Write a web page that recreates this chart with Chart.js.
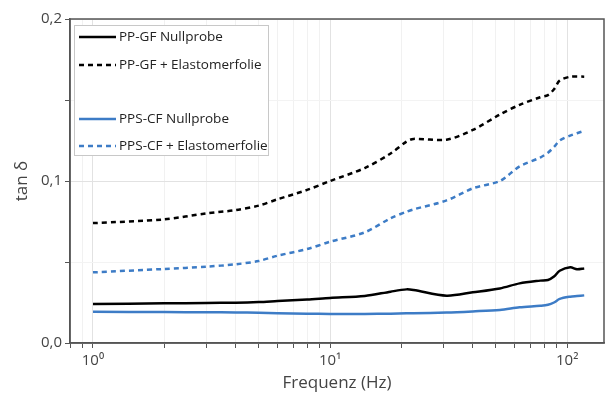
<!DOCTYPE html>
<html>
<head>
<meta charset="utf-8">
<script src="https://cdn.jsdelivr.net/npm/chart.js@4"></script>
<style>
  html, body { margin: 0; padding: 0; background: #fff; }
  #wrap { width: 606px; height: 394px; position: relative; }
</style>
</head>
<body>
<div id="wrap"><canvas id="chart"></canvas></div>
<script>
// Frequenz (Hz) – Messpunkte
const frequencies = [1, 2, 3, 4, 5, 6, 8, 10, 14, 18, 21, 22.5, 31, 40, 52, 63, 77, 83, 88, 93, 103, 110, 118];

// tan δ Werte
const ppgfNull = [0.0241, 0.0245, 0.0247, 0.0249, 0.0253, 0.0259, 0.0268, 0.0278, 0.0290, 0.0317, 0.0331, 0.0327, 0.0292, 0.0313, 0.0337, 0.0368, 0.0385, 0.0389, 0.0410, 0.0446, 0.0467, 0.0455, 0.0460];
const ppgfElasto = [0.0740, 0.0763, 0.0800, 0.0820, 0.0848, 0.0887, 0.0945, 0.1000, 0.1080, 0.1170, 0.1243, 0.1260, 0.1255, 0.1315, 0.1410, 0.1470, 0.1517, 0.1530, 0.1566, 0.1620, 0.1644, 0.1645, 0.1644];
const ppscfNull = [0.0193, 0.0191, 0.0190, 0.0189, 0.0187, 0.0184, 0.0181, 0.0179, 0.0179, 0.0181, 0.0183, 0.0184, 0.0188, 0.0195, 0.0204, 0.0220, 0.0230, 0.0236, 0.0250, 0.0272, 0.0286, 0.0290, 0.0294];
const ppscfElasto = [0.0436, 0.0457, 0.0471, 0.0486, 0.0506, 0.0539, 0.0580, 0.0625, 0.0683, 0.0770, 0.0810, 0.0825, 0.0880, 0.0955, 0.1000, 0.1090, 0.1145, 0.1175, 0.1210, 0.1250, 0.1280, 0.1295, 0.1310];

const seriesLabels = ['PP-GF Nullprobe', 'PP-GF + Elastomerfolie', 'PPS-CF Nullprobe', 'PPS-CF + Elastomerfolie'];
const xMajorTicks = [1, 10, 100];
const yTicks = [0, 0.05, 0.1, 0.15, 0.2];

const BLUE = '#3d7cc6';
const FONT = "'Open Sans', 'Noto Sans', sans-serif";

function toPoints(values) {
    return values.map((v, i) => ({ x: frequencies[i], y: v }));
}

// Log-Ticks inkl. Zwischenwerte (0.8 ... 100)
function buildLogTicks(min, max) {
    const out = [];
    xMajorTicks.forEach(base => {
        for (let m = 1; m < 10; m++) {
            const v = base * m / 10;
            if (v >= min - 1e-9 && v <= max) out.push(v);
        }
    });
    out.push(100);
    return [...new Set(out.map(v => +v.toFixed(6)))].sort((a, b) => a - b);
}

const supers = { '0': '\u2070', '1': '\u00B9', '2': '\u00B2' };

// Rahmen um die Plotfläche + Legendenbox
const framePlugin = {
    id: 'frame',
    afterDraw(chart) {
        const { ctx, chartArea: a } = chart;
        ctx.save();
        ctx.strokeStyle = '#555';
        ctx.lineWidth = 1.5;
        ctx.strokeRect(a.left, a.top, a.right - a.left, a.bottom - a.top);

        // Legende
        const bx = a.left + 4, by = a.top + 6, bw = 194, bh = 130;
        ctx.fillStyle = '#fff';
        ctx.fillRect(bx, by, bw, bh);
        ctx.strokeStyle = '#c8c8c8';
        ctx.lineWidth = 1;
        ctx.strokeRect(bx + 0.5, by + 0.5, bw, bh);

        const rows = [
            { y: 37, color: '#000', dash: [] },
            { y: 65, color: '#000', dash: [5, 4] },
            { y: 119, color: BLUE, dash: [] },
            { y: 146, color: BLUE, dash: [5, 4] }
        ];
        ctx.font = '13.5px ' + FONT;
        ctx.textBaseline = 'middle';
        rows.forEach((r, i) => {
            ctx.beginPath();
            ctx.setLineDash(r.dash);
            ctx.strokeStyle = r.color;
            ctx.lineWidth = 2.5;
            ctx.moveTo(79, r.y);
            ctx.lineTo(116, r.y);
            ctx.stroke();
            ctx.setLineDash([]);
            ctx.fillStyle = '#222';
            ctx.fillText(seriesLabels[i], 119, r.y);
        });
        ctx.restore();
    }
};

const ctx = document.getElementById('chart').getContext('2d');
new Chart(ctx, {
    type: 'line',
    data: {
        datasets: [
            {
                label: seriesLabels[0],
                data: toPoints(ppgfNull),
                borderColor: '#000',
                borderWidth: 2.5,
                pointRadius: 0,
                tension: 0.3
            },
            {
                label: seriesLabels[1],
                data: toPoints(ppgfElasto),
                borderColor: '#000',
                borderWidth: 2.5,
                borderDash: [5, 4],
                pointRadius: 0,
                tension: 0.3
            },
            {
                label: seriesLabels[2],
                data: toPoints(ppscfNull),
                borderColor: BLUE,
                borderWidth: 2.5,
                pointRadius: 0,
                tension: 0.3
            },
            {
                label: seriesLabels[3],
                data: toPoints(ppscfElasto),
                borderColor: BLUE,
                borderWidth: 2.5,
                borderDash: [5, 4],
                pointRadius: 0,
                tension: 0.3
            }
        ]
    },
    options: {
        responsive: true,
        maintainAspectRatio: false,
        animation: false,
        layout: { padding: { left: 0, top: 19, right: 2, bottom: 0 } },
        plugins: {
            legend: { display: false },
            tooltip: { enabled: false }
        },
        scales: {
            x: {
                type: 'logarithmic',
                min: 0.8,
                max: 143,
                afterBuildTicks: scale => {
                    scale.ticks = buildLogTicks(0.8, 143).map(v => ({ value: v }));
                },
                afterFit: scale => { scale.height = 51; },
                border: { display: true, color: '#555', width: 1.5 },
                grid: {
                    color: c => xMajorTicks.includes(c.tick && c.tick.value) ? '#e2e2e2' : '#f1f1f1',
                    tickColor: '#555',
                    tickLength: 5,
                    drawOnChartArea: true
                },
                ticks: {
                    autoSkip: false,
                    maxRotation: 0,
                    padding: 4,
                    color: '#444',
                    font: { family: FONT, size: 15 },
                    callback: v => {
                        if (!xMajorTicks.includes(v)) return '';
                        const e = Math.round(Math.log10(v)).toString();
                        return '10' + supers[e];
                    }
                },
                title: {
                    display: true,
                    text: 'Frequenz (Hz)',
                    color: '#444',
                    font: { family: FONT, size: 17 },
                    padding: { top: 0, bottom: 1 }
                }
            },
            y: {
                min: 0,
                max: 0.2,
                afterBuildTicks: scale => {
                    scale.ticks = yTicks.map(v => ({ value: v }));
                },
                afterFit: scale => { scale.width = 70; },
                border: { display: true, color: '#555', width: 1.5 },
                grid: {
                    color: c => (c.tick && Math.abs(c.tick.value * 10 - Math.round(c.tick.value * 10)) < 1e-6) ? '#e2e2e2' : '#f3f3f3',
                    tickColor: '#555',
                    tickLength: 5
                },
                ticks: {
                    padding: 3,
                    color: '#444',
                    font: { family: FONT, size: 15 },
                    callback: v => {
                        const r = Math.round(v * 10);
                        if (Math.abs(v * 10 - r) > 1e-6) return '';
                        return (r / 10).toFixed(1).replace('.', ',');
                    }
                },
                title: {
                    display: true,
                    text: 'tan \u03B4',
                    color: '#444',
                    font: { family: FONT, size: 17 },
                    padding: { top: 12, bottom: 4 }
                }
            }
        }
    },
    plugins: [framePlugin]
});
</script>
</body>
</html>
